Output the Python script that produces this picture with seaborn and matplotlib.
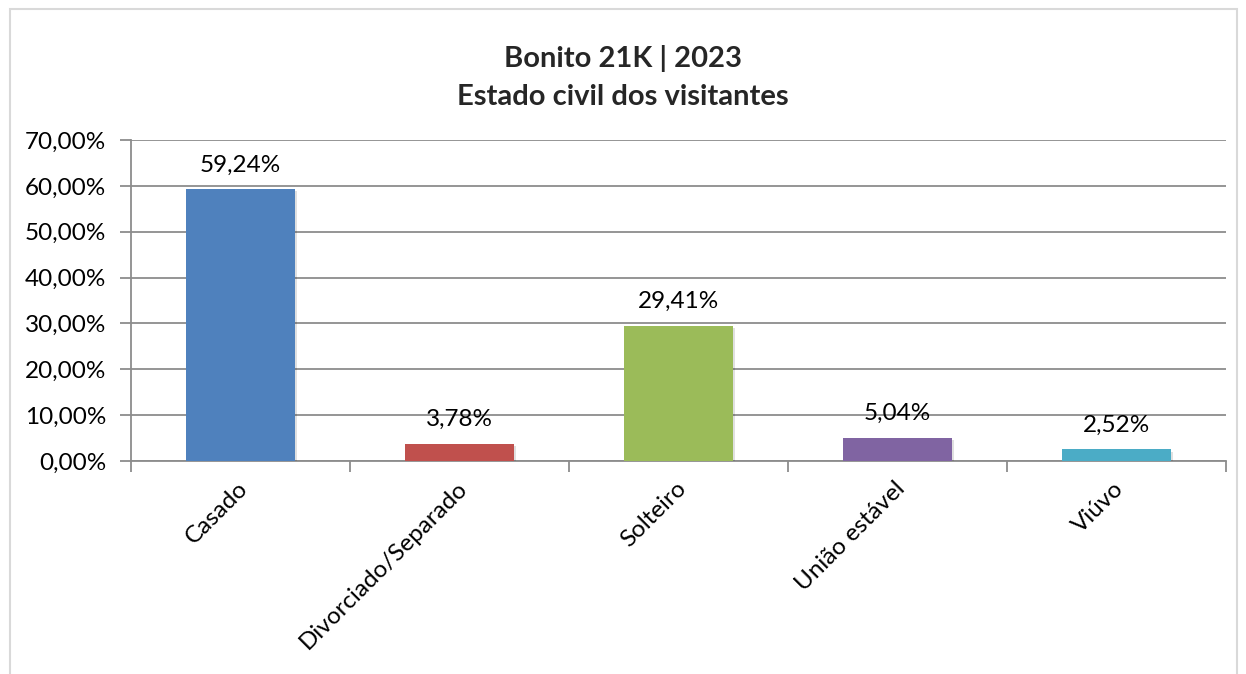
import matplotlib
matplotlib.use("Agg")
import matplotlib.pyplot as plt
import matplotlib.transforms as mtransforms
import matplotlib.patheffects as pe
from matplotlib.patches import Rectangle
from matplotlib.ticker import FuncFormatter, FixedLocator
import seaborn as sns
import pandas as pd

categories = ["Casado", "Divorciado/Separado", "Solteiro", "União estável", "Viúvo"]
values = [59.24, 3.78, 29.41, 5.04, 2.52]
colors = ["#4F81BD", "#C0504D", "#9BBB59", "#8064A2", "#4BACC6"]
title_lines = ["Bonito 21K | 2023", "Estado civil dos visitantes"]

sns.set_theme(style="white")
plt.rcParams['font.family'] = ['Lato', 'DejaVu Sans']

df = pd.DataFrame({"cat": categories, "val": values})

fig = plt.figure(figsize=(12.46, 6.74), dpi=100)
fig.patch.set_facecolor("white")
ax = fig.add_axes([131/1246, 1 - 461/674, (1226-131)/1246, (461-140)/674])

sns.barplot(data=df, x="cat", y="val", hue="cat", palette=colors, legend=False,
            width=0.5, ax=ax, saturation=1, edgecolor="none", zorder=3)
for bar in ax.patches:
    bar.set_path_effects([pe.SimplePatchShadow(offset=(1.5, -1.5), shadow_rgbFace="#000000",
                                               alpha=0.12), pe.Normal()])

grid_c = "#8C8C8C"
fs = 17.5
ax.set_ylim(0, 70)
ax.set_xlim(-0.5, len(categories) - 0.5)
ax.yaxis.set_major_locator(FixedLocator([0, 10, 20, 30, 40, 50, 60, 70]))
ax.yaxis.set_major_formatter(FuncFormatter(lambda v, p: f"{v:.2f}%".replace(".", ",")))
ax.grid(axis="y", color=grid_c, linewidth=1.3, zorder=0)
ax.set_axisbelow(True)
for s in ["top", "right"]:
    ax.spines[s].set_visible(False)
for s in ["left", "bottom"]:
    ax.spines[s].set_color(grid_c)
    ax.spines[s].set_linewidth(1.3)
ax.set_xlabel("")
ax.set_ylabel("")

ax.tick_params(axis="y", which="major", length=8, width=1.3, color=grid_c,
               labelsize=fs, labelcolor="black", pad=10, left=True)
ax.set_xticks(range(len(categories)))
ax.set_xticks([i - 0.5 for i in range(len(categories) + 1)], minor=True)
ax.tick_params(axis="x", which="major", length=0, labelsize=fs, labelcolor="black", pad=0)
ax.tick_params(axis="x", which="minor", length=8, width=1.3, color=grid_c, bottom=True)

offset = mtransforms.ScaledTranslation(4/100, -24/100, fig.dpi_scale_trans)
for lbl in ax.get_xticklabels():
    lbl.set_rotation(45)
    lbl.set_ha("right")
    lbl.set_va("center")
    lbl.set_rotation_mode("anchor")
    lbl.set_transform(lbl.get_transform() + offset)

for i, v in enumerate(values):
    ax.annotate(f"{v:.2f}%".replace(".", ","), xy=(i, v), xytext=(0, 10),
                textcoords="offset points", ha="center", va="bottom",
                fontsize=fs, color="black", zorder=5)

fig.text(0.5, 1 - 58/674, title_lines[0], ha="center", va="center",
         fontsize=21, fontweight="bold")
fig.text(0.5, 1 - 97/674, title_lines[1], ha="center", va="center",
         fontsize=21, fontweight="bold")

fig.patches.append(Rectangle((10/1246, -0.05), (1237-10)/1246, 1 - 9/674 + 0.05,
                             transform=fig.transFigure, fill=False,
                             edgecolor="#D9D9D9", linewidth=1.5))

fig.savefig("out.png", dpi=100, facecolor="white")
